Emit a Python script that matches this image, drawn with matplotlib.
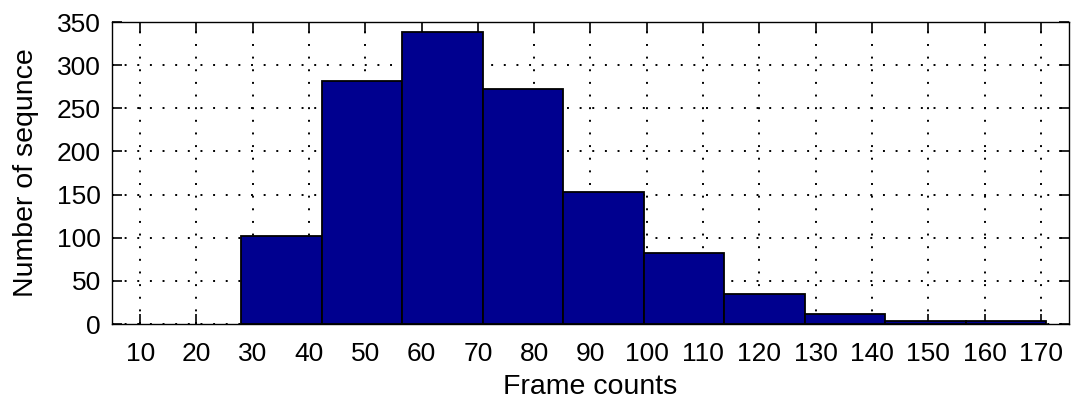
import numpy as np
import matplotlib.pyplot as plt

plt.rcParams['font.family'] = ['Liberation Sans', 'DejaVu Sans']

# histogram of sequence lengths (10 bins)
bin_edges = [28, 42.3, 56.6, 70.9, 85.2, 99.5, 113.8, 128.1, 142.4, 156.7, 171]
counts = [102, 282, 339, 272, 153, 82, 35, 12, 4, 4]
x_ticks = [10, 20, 30, 40, 50, 60, 70, 80, 90, 100, 110, 120, 130, 140, 150, 160, 170]
y_ticks = [0, 50, 100, 150, 200, 250, 300, 350]

fig = plt.figure(figsize=(10.74, 4.01), dpi=100)
ax = fig.add_axes([0.1043, 0.192, 0.8910, 0.753])

edges = np.array(bin_edges)
ax.bar(edges[:-1], counts, width=np.diff(edges), align='edge',
       color='#00008F', edgecolor='black', linewidth=1.3, zorder=2)

ax.set_xlim(5, 175)
ax.set_ylim(0, 350)
ax.set_xticks(x_ticks)
ax.set_yticks(y_ticks)

# dotted matlab-style grid
ax.grid(True, color='black', linestyle=(0, (1, 5.5)), linewidth=1.4)
ax.set_axisbelow(True)

ax.tick_params(direction='in', length=7, width=1.2, top=True, right=True)
ax.tick_params(axis='x', pad=13)
ax.tick_params(axis='y', pad=8)
for lbl in ax.get_xticklabels() + ax.get_yticklabels():
    lbl.set_family(['Liberation Sans Narrow', 'Liberation Sans'])
    lbl.set_fontsize(19)
for s in ax.spines.values():
    s.set_linewidth(1.0)

ax.set_xlabel("Frame counts", fontsize=20.5, labelpad=6)
ax.set_ylabel("Number of sequnce", fontsize=20.5, labelpad=13)

plt.savefig('out.png', dpi=100)
